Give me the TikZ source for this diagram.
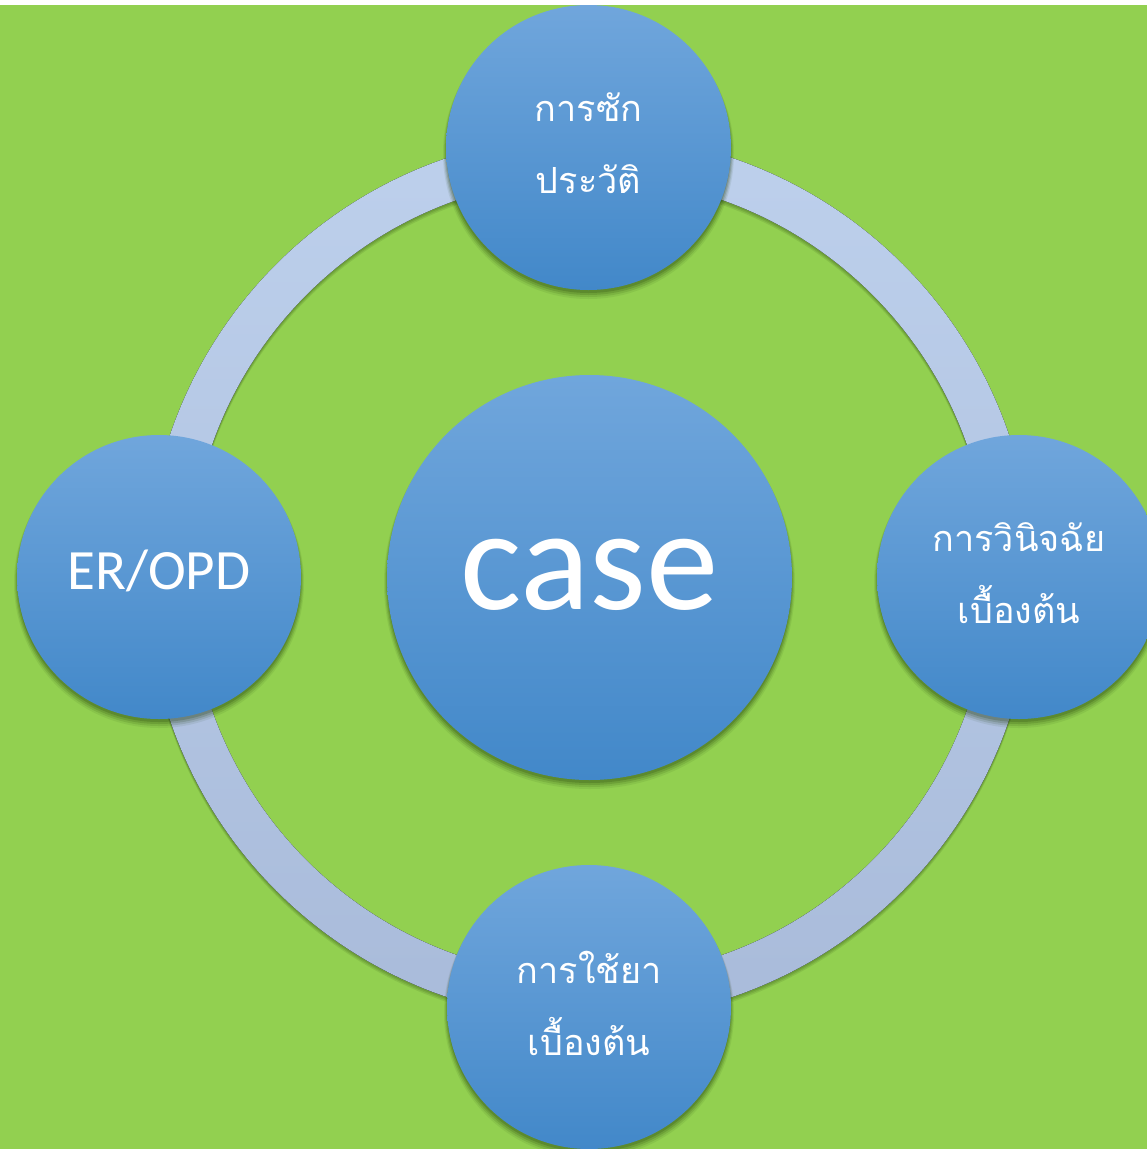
\documentclass[tikz,border=0pt]{standalone}
\usepackage{fontspec}
\setmainfont{Carlito}
\newfontfamily\thaifont[Script=Thai]{Loma}
\usetikzlibrary{backgrounds}
\definecolor{bggreen}{HTML}{92D050}
\definecolor{ringtop}{HTML}{BDD0EC}
\definecolor{ringbot}{HTML}{A9BBDA}
\definecolor{balltop}{HTML}{70A6DC}
\definecolor{ballbot}{HTML}{4288C9}
\definecolor{shadowcol}{HTML}{1E3A08}
\tikzset{
  ball/.style={circle, inner sep=0pt, minimum size=#1, top color=balltop, bottom color=ballbot, text=white, align=center},
  thaitext/.style={font=\thaifont\fontsize{36}{72}\selectfont},
}
\begin{document}
\begin{tikzpicture}[x=1pt,y=-1pt]
\path[use as bounding box] (0,0) rectangle (1147,1149);
\node[ball=405pt, font=\fontsize{145}{150}\selectfont, text depth=6pt] (case) at (589.5,577.5) {case};
\node[ball=285pt, thaitext, text depth=8pt] (hist) at (588.5,147.5) {การซัก\\ประวัติ};
\node[ball=284pt, thaitext, text depth=8pt] (diag) at (1019,577) {การวินิจฉัย\\เบื้องต้น};
\node[ball=284pt, font=\fontsize{57}{60}\selectfont, text depth=15pt] (er) at (159,577) {ER/OPD};
\node[ball=284pt, thaitext, text depth=8pt] (drug) at (589,1007) {การใช้ยา\\เบื้องต้น};
\begin{pgfonlayer}{background}
  \fill[white] (0,0) rectangle (1147,5);
  \fill[bggreen] (0,5) rectangle (1147,1149);
  % ring shadow
  \foreach \d/\o in {5/0.10,3.5/0.12,2/0.14}{
    \fill[shadowcol, opacity=\o, even odd rule]
      ([yshift=-\d pt]case.center) circle[radius=443] ([yshift=-\d pt]case.center) circle[radius=400];
  }
  % ring
  \fill[even odd rule, top color=ringtop, bottom color=ringbot]
    (case.center) circle[radius=443] (case.center) circle[radius=400];
  % circle shadows
  \foreach \n/\r in {case/202.5,hist/142.5,diag/142,er/142,drug/142}{
    \foreach \d/\e/\o in {6/3/0.08,5/2/0.12,4/1/0.16,3/0/0.2}{
      \fill[shadowcol, opacity=\o] ([yshift=-\d pt]\n.center) circle[radius=\r+\e];
    }
  }
\end{pgfonlayer}
\end{tikzpicture}
\end{document}
